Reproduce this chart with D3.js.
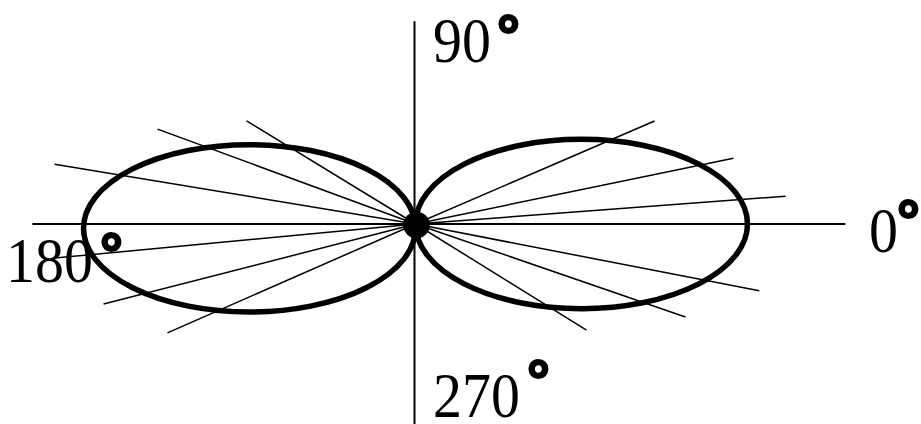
<!DOCTYPE html>
<html>
<head>
<meta charset="utf-8">
<script src="https://cdn.jsdelivr.net/npm/d3@7"></script>
<style>
  html, body { margin: 0; padding: 0; background: #fff; }
  svg { display: block; }
</style>
</head>
<body>
<svg id="chart" width="921" height="424"></svg>
<script>
// Dipole radiation pattern: two elliptical lobes along the 0°–180° axis,
// with sample rays drawn from the feed point.

// Lobes (normalised units, 1 = full lobe length)
const lobeNames   = ["right", "left"];
const lobeCenterX = [0.5, -0.5];
const lobeCenterY = [0.0, -0.013];
const lobeRadiusX = [0.5, 0.5];
const lobeRadiusY = [0.255, 0.252];

// Sample rays: direction in degrees and length in normalised units
const rayAngles  = [4.3, 11.7, 23.3, 148.6, 159.8, 170.6, 185.4, 194.4, 203.7, 328.2, 341.0, 349.0];
const rayLengths = [1.118, 0.978, 0.784, 0.596, 0.828, 1.102, 1.092, 0.970, 0.816, 0.606, 0.860, 1.055];

// Axis extents (normalised units)
const axisXExtent = [-1.154, 1.295];
const axisYExtent = [-0.62, 0.611];

// Angle labels
const tickAngles = [90, 0, 180, 270];
const tickLabels = ["90", "0", "180", "270"];

// Radius of the feed-point hub
const hubRadius = 0.04;

const svg = d3.select("#chart");
const cx0 = 415.5, cy0 = 224, unit = 332;

const x = d3.scaleLinear().domain([-1, 1]).range([cx0 - unit, cx0 + unit]);
const y = d3.scaleLinear().domain([-1, 1]).range([cy0 + unit, cy0 - unit]);
const toRad = d => d * Math.PI / 180;

// Axes
svg.append("line")
  .attr("x1", x(axisXExtent[0])).attr("x2", x(axisXExtent[1]))
  .attr("y1", y(0)).attr("y2", y(0))
  .attr("stroke", "#000").attr("stroke-width", 2);
svg.append("line")
  .attr("x1", x(0) - 1).attr("x2", x(0) - 1)
  .attr("y1", y(axisYExtent[1])).attr("y2", y(axisYExtent[0]))
  .attr("stroke", "#000").attr("stroke-width", 2);

// Rays
svg.append("g").selectAll("line")
  .data(rayAngles.map((a, i) => ({ a, r: rayLengths[i] })))
  .join("line")
  .attr("x1", x(0)).attr("y1", y(0))
  .attr("x2", d => x(d.r * Math.cos(toRad(d.a))))
  .attr("y2", d => y(d.r * Math.sin(toRad(d.a))))
  .attr("stroke", "#000").attr("stroke-width", 1.5);

// Lobes
svg.append("g").selectAll("ellipse")
  .data(lobeNames.map((n, i) => ({ n, cx: lobeCenterX[i], cy: lobeCenterY[i], rx: lobeRadiusX[i], ry: lobeRadiusY[i] })))
  .join("ellipse")
  .attr("cx", d => x(d.cx))
  .attr("cy", d => y(d.cy))
  .attr("rx", d => x(d.rx) - x(0))
  .attr("ry", d => y(0) - y(d.ry))
  .attr("fill", "none").attr("stroke", "#000").attr("stroke-width", 5.5);

// Feed point
svg.append("ellipse")
  .attr("cx", x(0) + 1).attr("cy", y(0) + 1)
  .attr("rx", x(hubRadius) - x(0))
  .attr("ry", x(hubRadius) - x(0))
  .attr("fill", "#000");

// Angle labels: placement of each number and its degree mark
const labelPlace = {
  90:  { tx: 433, ty: 62,  dx: 500, dy: 55 },
  0:   { tx: 869, ty: 252, dx: 900, dy: 240 },
  180: { tx: 6,   ty: 282, dx: 103, dy: 273 },
  270: { tx: 433, ty: 417, dx: 530, dy: 400 }
};

const labels = svg.append("g").selectAll("g")
  .data(tickAngles.map((a, i) => ({ a, text: tickLabels[i], p: labelPlace[a] })))
  .join("g");

labels.append("text")
  .attr("transform", d => `translate(${d.p.tx},${d.p.ty}) scale(0.92,1)`)
  .attr("font-family", "'Liberation Serif', 'Times New Roman', serif")
  .attr("font-size", 63)
  .attr("fill", "#000")
  .text(d => d.text);

labels.append("text")
  .attr("x", d => d.p.dx - 3)
  .attr("y", d => d.p.dy)
  .attr("font-family", "'Liberation Sans', Arial, sans-serif")
  .attr("font-weight", "bold")
  .attr("font-size", 57)
  .attr("fill", "#000")
  .attr("stroke", "#000")
  .attr("stroke-width", 2.2)
  .text("°");
</script>
</body>
</html>
